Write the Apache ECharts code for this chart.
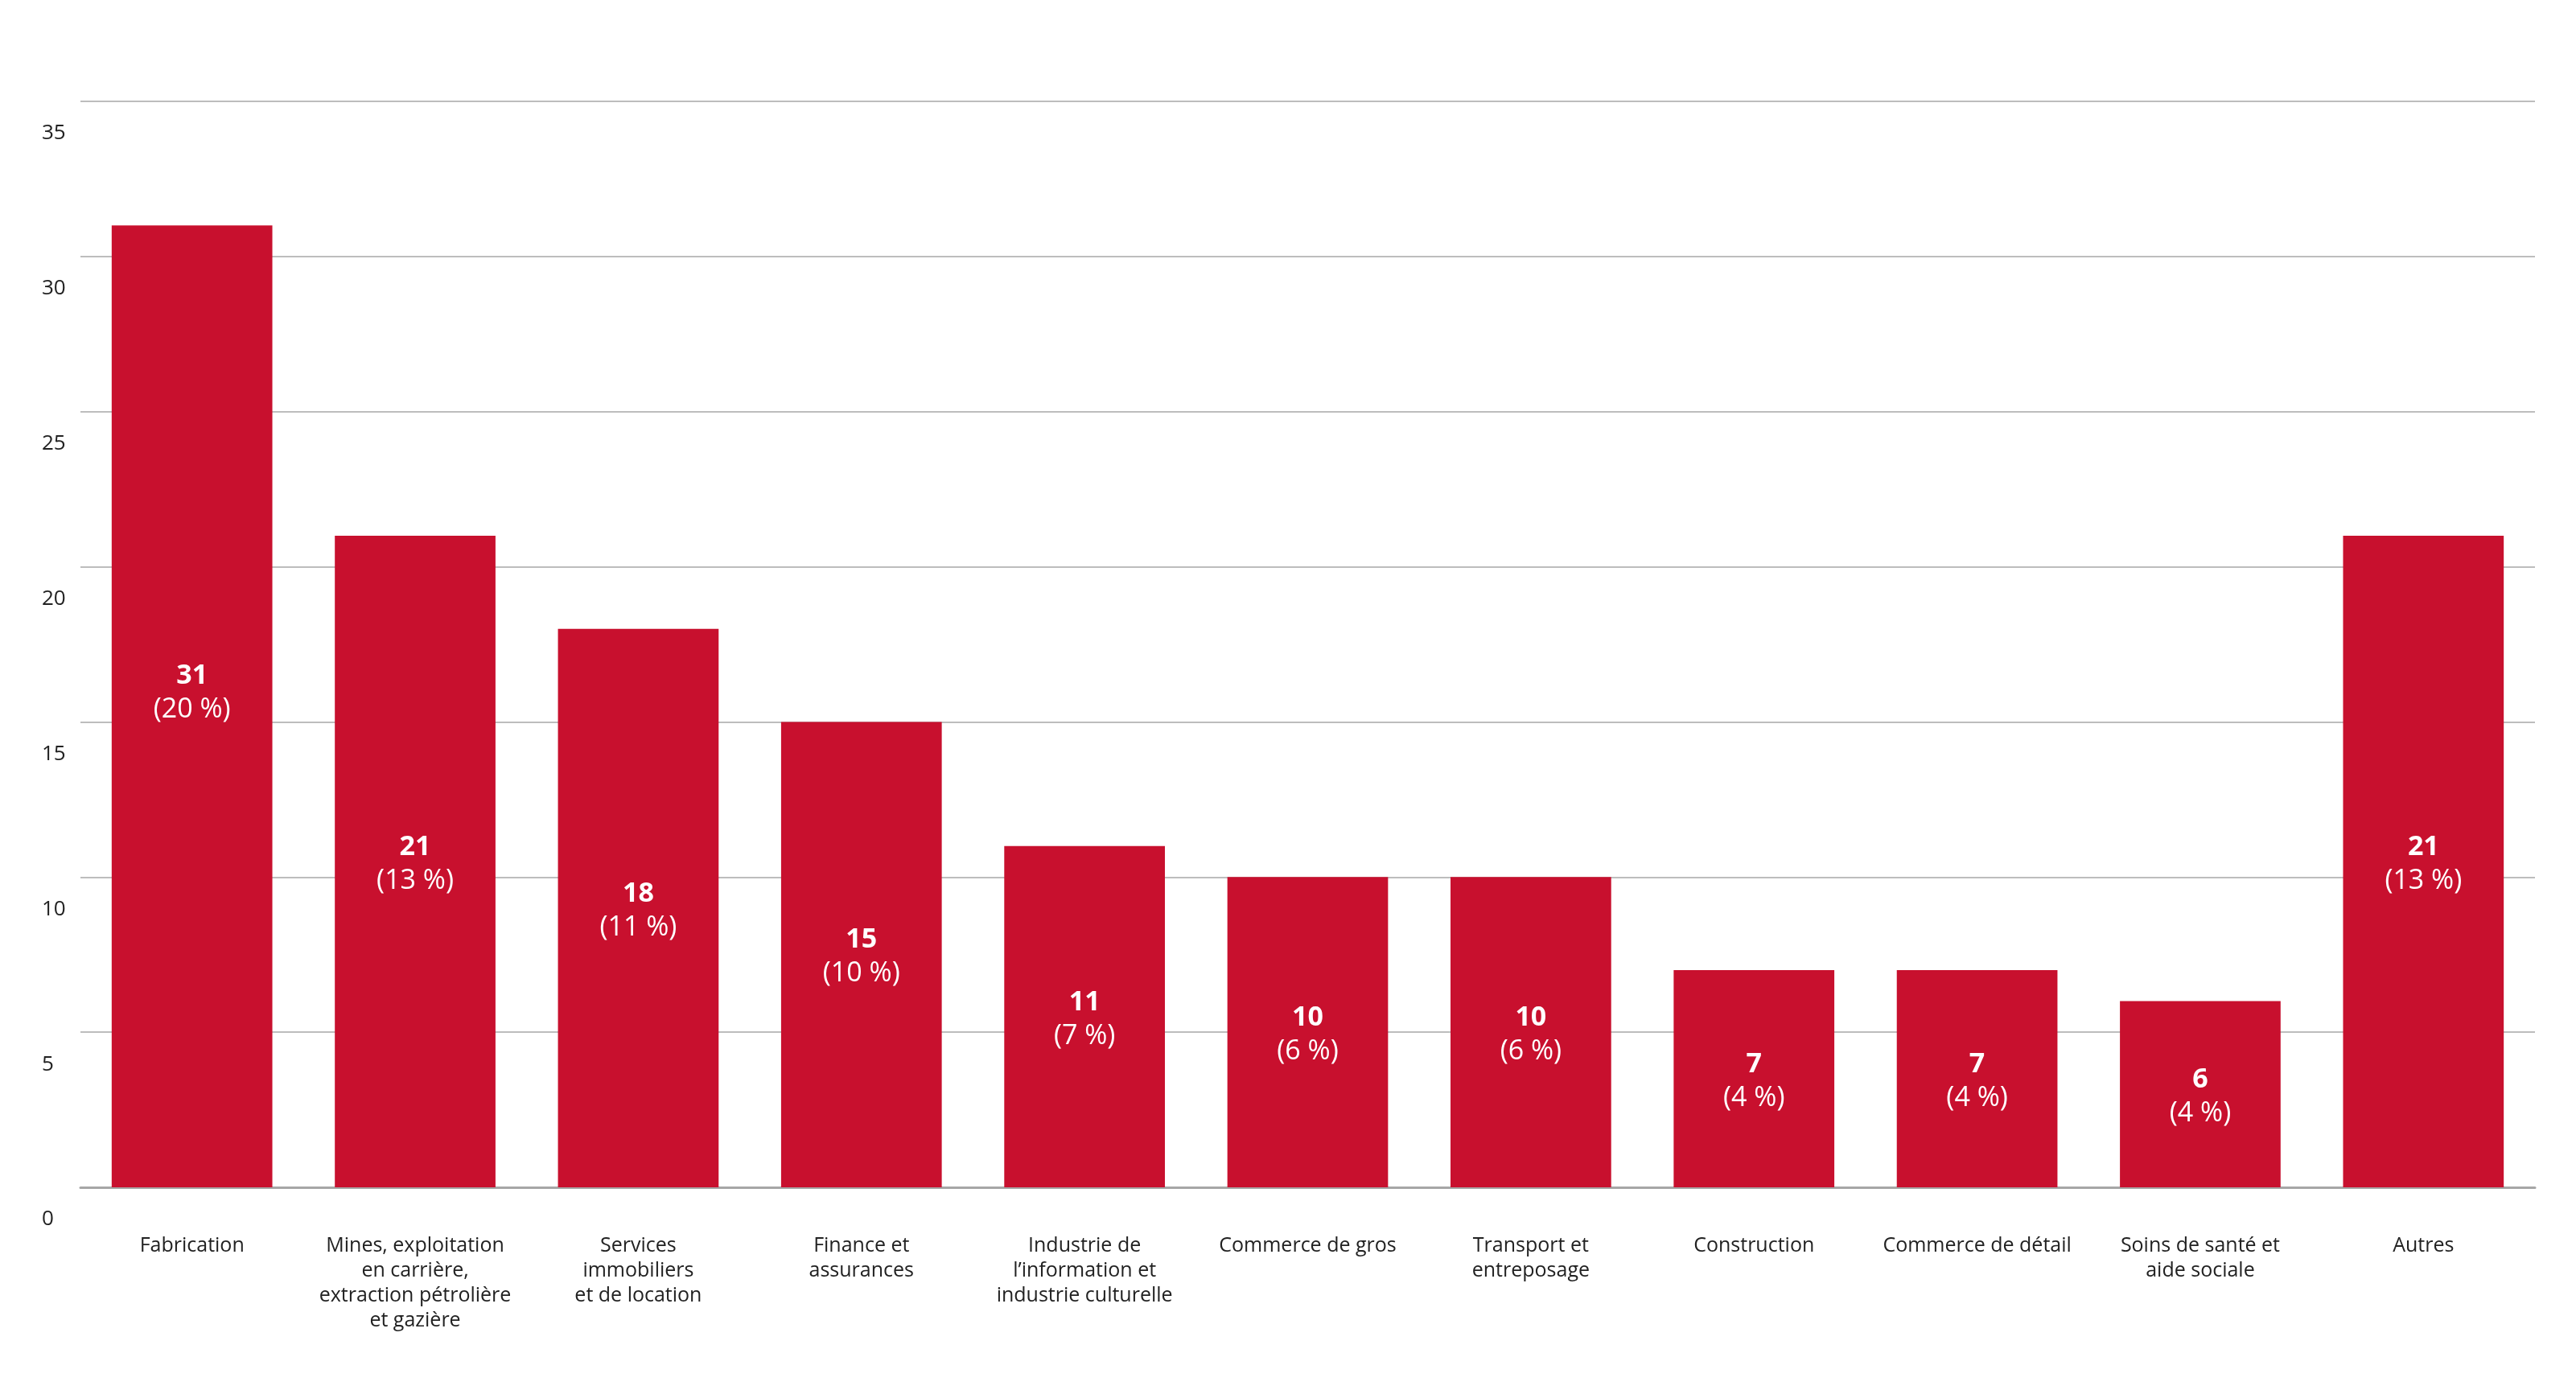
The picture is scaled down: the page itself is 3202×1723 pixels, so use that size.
<!DOCTYPE html>
<html>
<head>
<meta charset="utf-8">
<script src="https://cdn.jsdelivr.net/npm/echarts@6/dist/echarts.min.js"></script>
<style>
html,body{margin:0;padding:0;background:#fff;}
#chart{width:3202px;height:1723px;}
</style>
</head>
<body>
<div id="chart"></div>
<script>
const categories = [
  "Fabrication",
  "Mines, exploitation\nen carrière,\nextraction pétrolière\net gazière",
  "Services\nimmobiliers\net de location",
  "Finance et\nassurances",
  "Industrie de\nl’information et\nindustrie culturelle",
  "Commerce de gros",
  "Transport et\nentreposage",
  "Construction",
  "Commerce de détail",
  "Soins de santé et\naide sociale",
  "Autres"
];
const values = [31, 21, 18, 15, 11, 10, 10, 7, 7, 6, 21];
const percents = [20, 13, 11, 10, 7, 6, 6, 4, 4, 4, 13];
const yTicks = [0, 5, 10, 15, 20, 25, 30, 35];

const chart = echarts.init(document.getElementById('chart'));
chart.setOption({
  backgroundColor: '#ffffff',
  animation: false,
  grid: { left: 100, right: 51, top: 126, bottom: 247, containLabel: false },
  xAxis: {
    type: 'category',
    data: categories,
    axisTick: { show: false },
    axisLine: { show: true, lineStyle: { color: '#a6a6a6', width: 3 } },
    axisLabel: {
      interval: 0,
      margin: 57,
      fontFamily: 'Open Sans',
      fontSize: 25,
      lineHeight: 31,
      color: '#222222',
      verticalAlign: 'top'
    }
  },
  yAxis: {
    type: 'value',
    min: yTicks[0],
    max: yTicks[yTicks.length - 1],
    interval: 5,
    axisLine: { show: false },
    axisTick: { show: false },
    splitLine: { lineStyle: { color: '#bdbdbd', width: 2 } },
    axisLabel: {
      align: 'left',
      margin: 48,
      verticalAlign: 'top',
      padding: [27, 0, 0, 0],
      fontFamily: 'Open Sans',
      fontSize: 26,
      lineHeight: 26,
      color: '#222222'
    }
  },
  series: [{
    type: 'bar',
    barCategoryGap: '28%',
    itemStyle: { color: '#C8102E' },
    data: values.map((v, i) => i === 0 ? { value: v, label: { offset: [0, -17] } } : v),
    label: {
      show: true,
      position: 'inside',
      offset: [0, 3],
      formatter: p => '{b|' + values[p.dataIndex] + '}\n{r|(' + percents[p.dataIndex] + ' %)}',
      rich: {
        b: { fontFamily: 'Open Sans', fontWeight: 'bold', fontSize: 34, lineHeight: 42, color: '#ffffff' },
        r: { fontFamily: 'Open Sans', fontSize: 34, lineHeight: 42, color: '#ffffff' }
      }
    }
  }]
});
</script>
</body>
</html>
